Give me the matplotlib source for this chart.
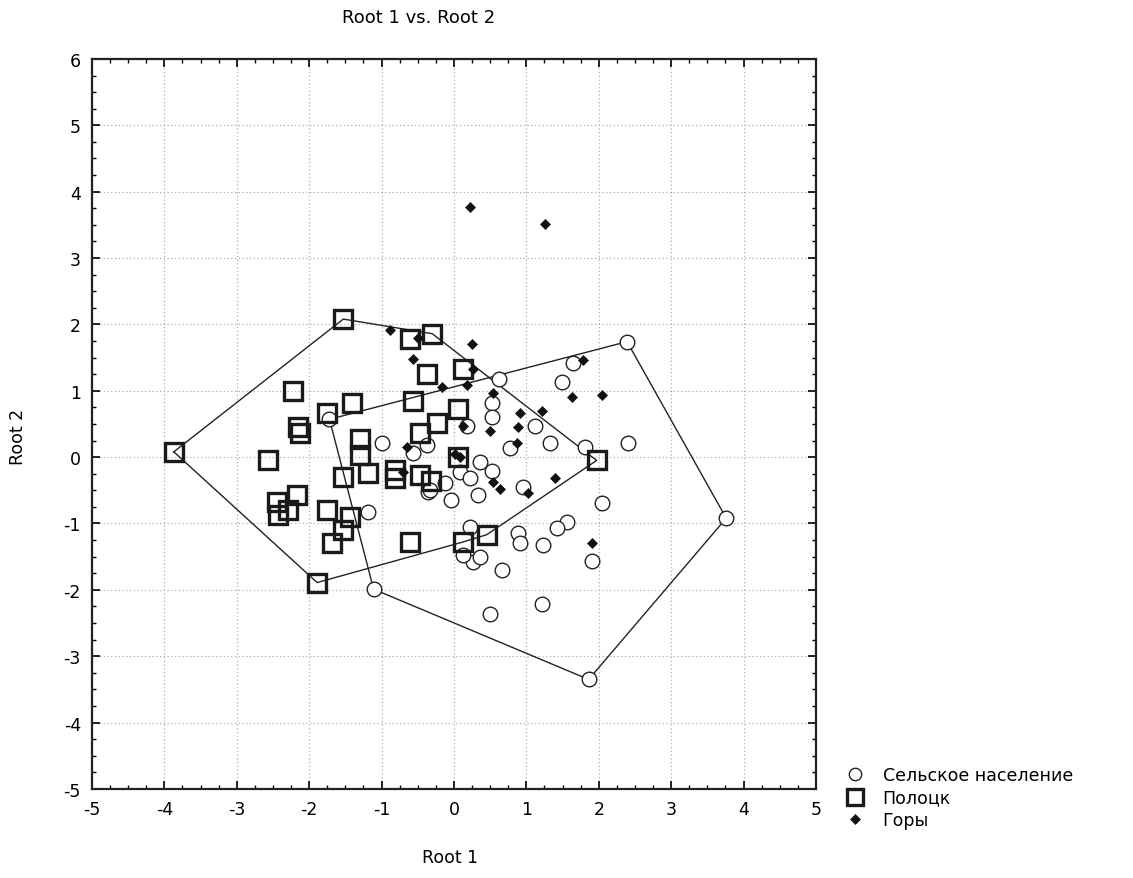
import matplotlib

matplotlib.use("Agg")
import matplotlib.pyplot as plt
import numpy as np
from matplotlib.ticker import MultipleLocator

plt.rcParams["font.family"] = ["DejaVu Sans"]
plt.rcParams["axes.unicode_minus"] = False

# --- data (Root 1, Root 2) ---
rural_x = [2.39, 1.64, 1.49, 0.62, 0.52, 0.52, 0.18, 1.12, 1.33, 0.77, 1.81, 2.40,
           0.36, 0.52, 0.08, 0.22, -0.12, -0.36, -0.04, 0.33, 0.96, 2.04, 1.56, 1.42,
           0.22, 0.88, 0.91, 1.23, 1.91, 0.26, 0.12, 0.36, 0.66, 1.22, 0.50, 3.76,
           1.86, -1.11, -0.99, -1.19, -0.37, -0.57, -0.33, -1.72]
rural_y = [1.74, 1.42, 1.13, 1.17, 0.82, 0.60, 0.47, 0.47, 0.22, 0.14, 0.15, 0.21,
           -0.07, -0.21, -0.23, -0.32, -0.39, -0.52, -0.64, -0.57, -0.45, -0.69, -0.98, -1.07,
           -1.05, -1.15, -1.29, -1.33, -1.57, -1.58, -1.47, -1.50, -1.70, -2.22, -2.37, -0.92,
           -3.35, -1.99, 0.21, -0.83, 0.19, 0.06, -0.50, 0.57]

polotsk_x = [-3.87, -1.53, -0.30, -0.61, -0.37, 0.12, -2.22, -1.75, -1.41, -2.15,
             -2.13, -0.57, -0.24, 0.06, -0.47, -2.57, -1.30, -1.30, -1.53, -1.19,
             -0.81, -0.81, -0.47, -0.32, 0.06, 1.97, -2.45, -2.17, -2.29, -2.43,
             -1.75, -1.44, -1.53, -1.69, -0.61, 0.12, 0.45, -1.89]
polotsk_y = [0.08, 2.08, 1.86, 1.78, 1.26, 1.33, 1.00, 0.67, 0.81, 0.45,
             0.36, 0.85, 0.52, 0.73, 0.37, -0.05, 0.28, 0.03, -0.30, -0.24,
             -0.20, -0.32, -0.27, -0.36, 0.00, -0.05, -0.68, -0.57, -0.80, -0.87,
             -0.80, -0.90, -1.10, -1.29, -1.28, -1.28, -1.17, -1.89]

mount_x = [0.22, 1.26, -0.88, -0.50, -0.57, 0.25, 0.26, -0.17, 0.18, 0.54, 1.78,
           1.63, 2.04, 0.91, 1.21, 0.88, 0.50, 0.12, 0.87, 0.02, 0.08, -0.65,
           -0.70, 0.64, 0.54, 1.02, 1.40, 1.91]
mount_y = [3.77, 3.52, 1.92, 1.80, 1.48, 1.71, 1.33, 1.05, 1.08, 0.96, 1.47,
           0.90, 0.93, 0.67, 0.70, 0.45, 0.40, 0.47, 0.22, 0.05, 0.00, 0.15,
           -0.23, -0.48, -0.38, -0.54, -0.32, -1.30]

labels = ["Сельское население", "Полоцк", "Горы"]


def convex_hull(xs, ys):
    pts = sorted(set(zip(xs, ys)))

    def cross(o, a, b):
        return (a[0] - o[0]) * (b[1] - o[1]) - (a[1] - o[1]) * (b[0] - o[0])

    lower, upper = [], []
    for p in pts:
        while len(lower) >= 2 and cross(lower[-2], lower[-1], p) <= 0:
            lower.pop()
        lower.append(p)
    for p in reversed(pts):
        while len(upper) >= 2 and cross(upper[-2], upper[-1], p) <= 0:
            upper.pop()
        upper.append(p)
    hull = lower[:-1] + upper[:-1]
    hull.append(hull[0])
    return np.array(hull)


fig = plt.figure(figsize=(11.33, 8.79), dpi=100)
ax = fig.add_axes([0.0812, 0.1013, 0.639, 0.8305])

# hulls round the two town groups
for xs, ys in [(rural_x, rural_y), (polotsk_x, polotsk_y)]:
    h = convex_hull(xs, ys)
    ax.plot(h[:, 0], h[:, 1], color="#222222", lw=1.0, zorder=2)

ax.plot(rural_x, rural_y, "o", ms=10.5, mfc="white", mec="#222222", mew=1.0,
        label=labels[0], zorder=3)
ax.plot(polotsk_x, polotsk_y, "s", ms=13.5, mfc="none", mec="#1a1a1a", mew=2.4,
        label=labels[1], zorder=4)
ax.plot(mount_x, mount_y, "D", ms=5.5, mfc="#111111", mec="#111111", mew=0.5,
        label=labels[2], zorder=5)

ax.set_xlim(-5, 5)
ax.set_ylim(-5, 6)
ax.xaxis.set_major_locator(MultipleLocator(1))
ax.yaxis.set_major_locator(MultipleLocator(1))
ax.xaxis.set_minor_locator(MultipleLocator(0.25))
ax.yaxis.set_minor_locator(MultipleLocator(0.25))
ax.tick_params(which="both", direction="in", top=True, right=True, labelsize=12.5)
ax.tick_params(which="major", length=6, width=1.2)
ax.tick_params(which="minor", length=3, width=1.0)
ax.tick_params(axis="x", which="major", pad=8)
ax.tick_params(axis="y", which="major", pad=8)
ax.grid(True, which="major", ls=(0, (1, 2)), color="#b0b0b0", lw=0.9)
for s in ax.spines.values():
    s.set_linewidth(1.6)
    s.set_color("#222222")

fig.text(0.369, 0.979, "Root 1 vs. Root 2", ha="center", va="center", fontsize=13)
fig.text(0.397, 0.024, "Root 1", ha="center", va="center", fontsize=12.5)
fig.text(0.016, 0.503, "Root 2", ha="center", va="center", rotation=90, fontsize=12.5)

leg = ax.legend(loc="lower left", bbox_to_anchor=(0.733, 0.038), bbox_transform=fig.transFigure,
                frameon=False, fontsize=12.5, handlelength=1.0, handletextpad=1.1,
                labelspacing=0.25, markerscale=0.85)

fig.savefig("out.png", dpi=100)
